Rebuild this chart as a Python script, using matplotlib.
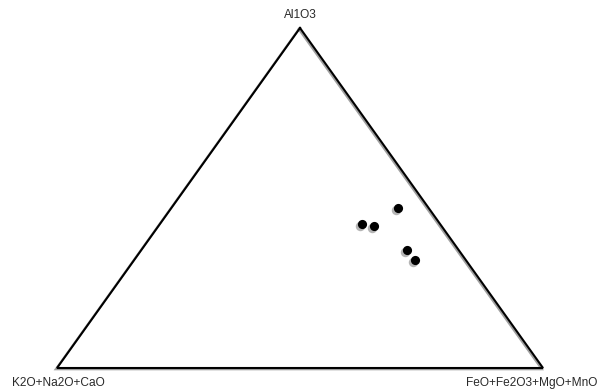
import numpy as np
import matplotlib.pyplot as plt

# ternary compositions (%)
al2o3 = [47.0, 42.4, 41.8, 34.7, 31.8]
alkali = [6.3, 16.0, 13.9, 10.6, 10.4]   # K2O+Na2O+CaO
femg = [46.7, 41.6, 44.3, 54.7, 57.8]    # FeO+Fe2O3+MgO+MnO

labels = ["Al1O3", "K2O+Na2O+CaO", "FeO+Fe2O3+MgO+MnO"]

# triangle corners in pixel space (top, bottom-left, bottom-right)
TOP = np.array([300.0, 28.0])
LEFT = np.array([57.0, 368.0])
RIGHT = np.array([543.0, 368.0])


def tern_to_xy(a, b, c):
    a, b, c = np.asarray(a, float), np.asarray(b, float), np.asarray(c, float)
    s = a + b + c
    a, b, c = a / s, b / s, c / s
    x = a * TOP[0] + b * LEFT[0] + c * RIGHT[0]
    y = a * TOP[1] + b * LEFT[1] + c * RIGHT[1]
    return x, y


fig = plt.figure(figsize=(5.99, 3.92), dpi=100)
ax = fig.add_axes([0, 0, 1, 1])
ax.set_xlim(0, 599)
ax.set_ylim(392, 0)
ax.axis('off')

# triangle outline with soft shadow
tri = np.array([TOP, RIGHT, LEFT, TOP])
ax.plot(tri[:, 0] - 1.2, tri[:, 1] + 1.2, color='#a0a0a0', lw=1.6,
        solid_joinstyle='miter', zorder=1)
ax.plot(tri[:, 0], tri[:, 1], color='black', lw=1.5,
        solid_joinstyle='miter', zorder=2)

# data points with shadow
x, y = tern_to_xy(al2o3, alkali, femg)
ax.plot(x - 1.8, y + 1.8, 'o', color='#b5b5b5', ms=6.8, mec='none', zorder=3)
ax.plot(x, y, 'o', color='black', ms=6.6, mec='none', zorder=4)

font = dict(family='Liberation Sans', fontsize=8.6, color='#2a2a2a')
ax.text(TOP[0], 15, labels[0], ha='center', va='center', **font)
ax.text(12, 383, labels[1], ha='left', va='center', **font)
ax.text(597, 383, labels[2], ha='right', va='center', **font)

fig.savefig('out.png', dpi=100)
